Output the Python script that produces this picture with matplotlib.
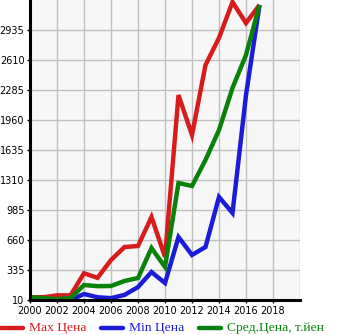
import matplotlib.pyplot as plt
from matplotlib.lines import Line2D

years = list(range(2000, 2018))
max_price = [40, 40, 60, 60, 300, 250, 443, 584, 595, 909, 476, 2230, 1797, 2556, 2850, 3238, 3010, 3206]
min_price = [20, 10, 10, 10, 75, 40, 30, 65, 150, 313, 194, 692, 498, 584, 1126, 953, 2230, 3206]
avg_price = [40, 30, 20, 30, 172, 160, 162, 216, 248, 573, 368, 1278, 1245, 1527, 1852, 2307, 2664, 3206]

y_ticks = [10, 335, 660, 985, 1310, 1635, 1960, 2285, 2610, 2935]
x_ticks = list(range(2000, 2020, 2))

RED = '#d81c1c'
BLUE = '#1c1cd8'
GREEN = '#088208'

W, H = 345, 335
fig = plt.figure(figsize=(W / 100, H / 100), dpi=100)
ax = fig.add_axes([30 / W, 35 / H, 270 / W, 300 / H])
ax.set_facecolor('#f7f7f7')

for vals, col in [(max_price, RED), (min_price, BLUE), (avg_price, GREEN)]:
    ax.plot(years, vals, color=col, lw=3.2, solid_joinstyle='miter', solid_capstyle='butt')

ax.set_xlim(2000, 2020)
ax.set_ylim(10, 3260)
ax.set_xticks(x_ticks)
ax.set_yticks(y_ticks)
ax.grid(True, color='#c0c0c0', lw=1)
ax.set_axisbelow(True)

for s in ['top', 'right']:
    ax.spines[s].set_visible(False)
ax.spines['left'].set_linewidth(2.2)
ax.spines['bottom'].set_linewidth(2.2)
ax.tick_params(axis='both', labelsize=7, length=2.5, width=1, pad=1.5)
ax.axvline(2020, color='#c0c0c0', lw=1)

# legend row under the axes
legend = [('Max Цена', RED, 0), ('Min Цена', BLUE, 100), ('Сред.Цена, т.йен', GREEN, 198)]
ly = 1 - 328 / H
for label, col, x0 in legend:
    fig.add_artist(Line2D([(x0 + 1) / W, (x0 + 23) / W], [ly, ly], color=col, lw=3.2,
                          solid_capstyle='round', transform=fig.transFigure))
    fig.text((x0 + 29) / W, ly, label, color=col, ha='left', va='center',
             family='Liberation Serif', fontsize=9.7)

fig.savefig('out.png', dpi=100)
